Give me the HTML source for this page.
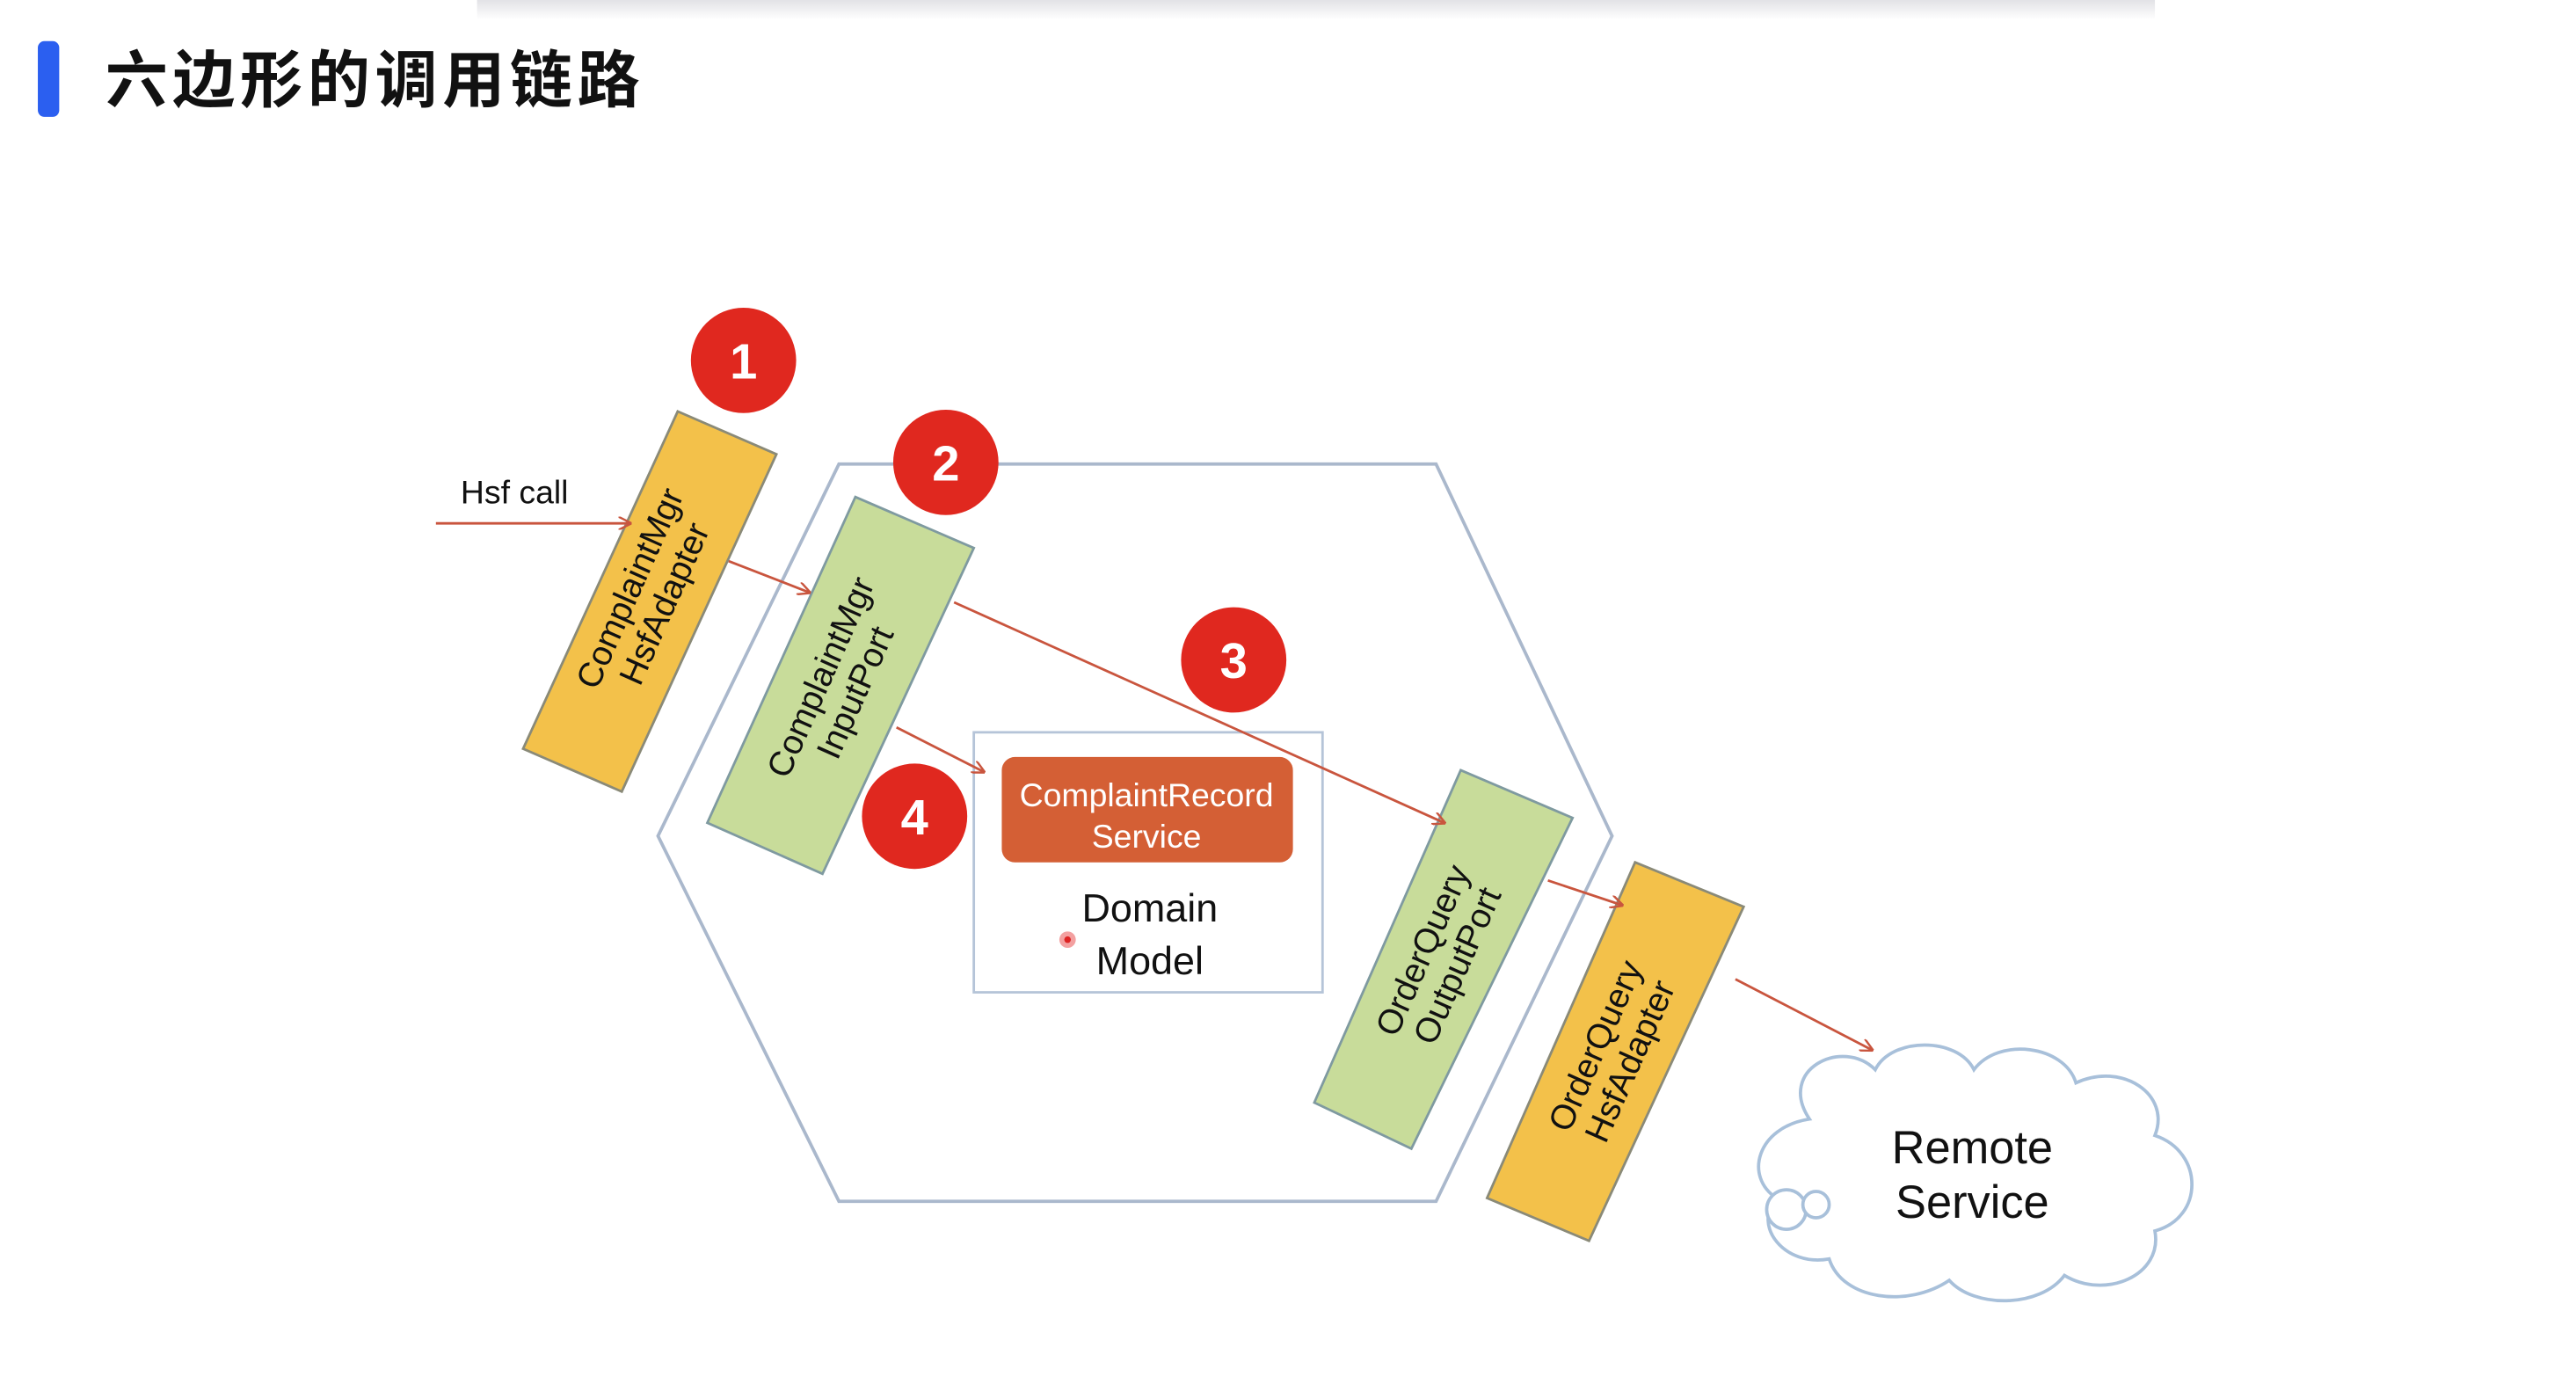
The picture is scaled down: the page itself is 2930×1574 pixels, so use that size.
<!DOCTYPE html>
<html><head><meta charset="utf-8"><style>
html,body{margin:0;padding:0;background:#fff;width:2930px;height:1574px;overflow:hidden}
svg{display:block}
</style></head><body>
<svg width="2930" height="1574" viewBox="0 0 1566 841" preserveAspectRatio="none" xmlns="http://www.w3.org/2000/svg">
<defs>
<linearGradient id="sh" x1="0" y1="0" x2="0" y2="1"><stop offset="0" stop-color="#e2e2e6"/><stop offset="1" stop-color="#fff"/></linearGradient>
<marker id="ar" markerWidth="8" markerHeight="8" refX="7" refY="4" orient="auto" markerUnits="userSpaceOnUse"><path d="M0,0 L8,4 L0,8" fill="none" stroke="#c9553e" stroke-width="1.3"/></marker>
</defs>
<rect x="290" y="0" width="1020" height="12" fill="url(#sh)"/>
<rect x="23" y="25" width="13" height="46" rx="4" fill="#2b5ff0"/>
<text x="64" y="62" font-family="Liberation Sans, Noto Sans CJK SC, sans-serif" font-weight="bold" font-size="38" letter-spacing="3" fill="#111">六边形的调用链路</text>

<polygon points="510,282 873,282 980,508 873,730 510,730 400,508" fill="none" stroke="#aab8cc" stroke-width="2"/>
<rect x="592" y="445" width="212" height="158" fill="#fff" stroke="#b5c4d8" stroke-width="1.5"/>
<rect x="609" y="460" width="177" height="64" rx="8" fill="#d45f35"/>
<g font-family="Liberation Sans, sans-serif" text-anchor="middle">
<text x="697" y="490" font-size="20" fill="#fff">ComplaintRecord</text>
<text x="697" y="515" font-size="20" fill="#fff">Service</text>
<text x="699" y="560" font-size="24" fill="#111">Domain</text>
<text x="699" y="592" font-size="24" fill="#111">Model</text>
</g>
<circle cx="649" cy="571" r="5" fill="#f3a0a0"/><circle cx="649" cy="571" r="2" fill="#d22"/>

<polygon points="412,250 472,276 378,481 318,455" fill="#f3c14a" stroke="#8a8a78" stroke-width="1.5"/>
<polygon points="520,302 592,333 500,531 430,500" fill="#c8dc9a" stroke="#7f9aa0" stroke-width="1.5"/>
<polygon points="888,468 956,497 858,698 799,670" fill="#c8dc9a" stroke="#7f9aa0" stroke-width="1.5"/>
<polygon points="994,524 1060,551 966,754 904,728" fill="#f3c14a" stroke="#8a8a78" stroke-width="1.5"/>

<g font-family="Liberation Sans, sans-serif" font-size="21" fill="#111" text-anchor="middle">
<g transform="translate(393,362) rotate(-66)"><text y="-4">ComplaintMgr</text><text y="19">HsfAdapter</text></g>
<g transform="translate(509,416) rotate(-66)"><text y="-4">ComplaintMgr</text><text y="19">InputPort</text></g>
<g transform="translate(875,582) rotate(-66)"><text y="-4">OrderQuery</text><text y="19">OutputPort</text></g>
<g transform="translate(980,640) rotate(-66)"><text y="-4">OrderQuery</text><text y="19">HsfAdapter</text></g>
</g>

<g stroke="#c9553e" stroke-width="1.5" fill="none" marker-end="url(#ar)">
<line x1="265" y1="318" x2="383" y2="318"/>
<line x1="443" y1="341" x2="492" y2="360"/>
<line x1="580" y1="366" x2="878" y2="500"/>
<line x1="545" y1="442" x2="598" y2="469"/>
<line x1="941" y1="535" x2="986" y2="550"/>
<line x1="1055" y1="595" x2="1138" y2="638"/>
</g>
<text x="280" y="306" font-family="Liberation Sans, sans-serif" font-size="20" fill="#111">Hsf call</text>

<g fill="#e0281f">
<circle cx="452" cy="219" r="32"/><circle cx="575" cy="281" r="32"/><circle cx="750" cy="401" r="32"/><circle cx="556" cy="496" r="32"/>
</g>
<g font-family="Liberation Sans, sans-serif" font-size="30" font-weight="bold" fill="#fff" text-anchor="middle">
<text x="452" y="230">1</text><text x="575" y="292">2</text><text x="750" y="412">3</text><text x="556" y="507">4</text>
</g>

<path d="M1100,680 C1080,650 1120,630 1140,650 C1150,630 1190,630 1200,650 C1215,630 1255,635 1262,658 C1290,645 1320,665 1310,690 C1340,700 1340,740 1310,748 C1315,775 1280,790 1255,775 C1240,795 1200,795 1185,778 C1160,795 1120,790 1112,765 C1085,770 1065,745 1080,728 C1060,715 1068,685 1100,680 Z" fill="#fff" stroke="#a8c0da" stroke-width="2"/>
<circle cx="1086" cy="735" r="12" fill="#fff" stroke="#a8c0da" stroke-width="2"/>
<circle cx="1104" cy="732" r="8" fill="#fff" stroke="#a8c0da" stroke-width="2"/>
<g font-family="Liberation Sans, sans-serif" font-size="28" fill="#111" text-anchor="middle">
<text x="1199" y="707">Remote</text><text x="1199" y="740">Service</text>
</g>
</svg>
</body></html>
